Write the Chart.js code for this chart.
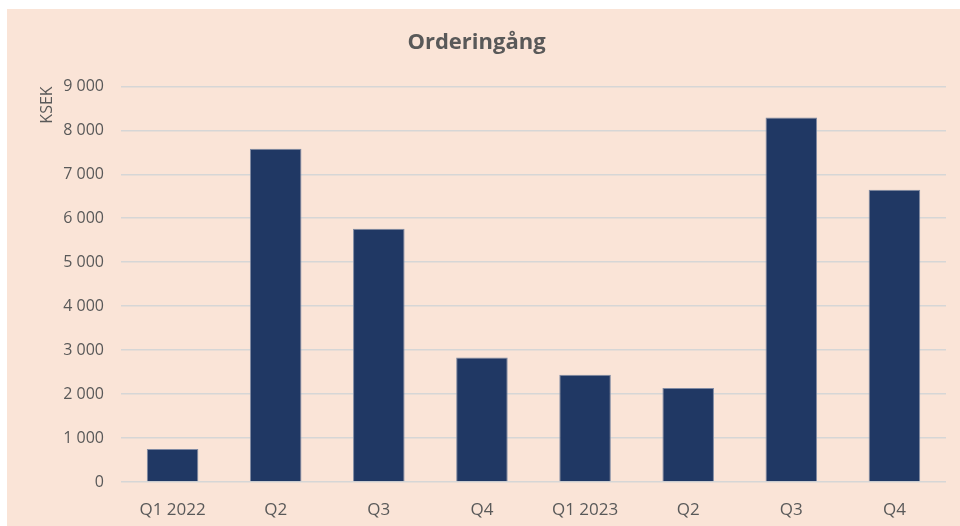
<!DOCTYPE html>
<html>
<head>
<meta charset="utf-8">
<script src="https://cdn.jsdelivr.net/npm/chart.js@4/dist/chart.umd.min.js"></script>
<style>
    html, body { margin: 0; padding: 0; background: #ffffff; }
    #wrap {
        position: absolute;
        left: 7px;
        top: 9px;
        width: 953px;
        height: 517px;
        background: #FAE4D7;
    }
</style>
</head>
<body>
<div id="wrap"><canvas id="orderChart" width="953" height="517"></canvas></div>
<script>
// Orderingång per kvartal (KSEK)
const categories = ['Q1 2022', 'Q2', 'Q3', 'Q4', 'Q1 2023', 'Q2', 'Q3', 'Q4'];
const orderValues = [750, 7580, 5760, 2830, 2440, 2140, 8290, 6650];
const yMin = 0;
const yMax = 9000;
const yStep = 1000;

const textColor = '#595959';
const fontFamily = '"Open Sans", "Noto Sans", sans-serif';

const ctx = document.getElementById('orderChart').getContext('2d');

new Chart(ctx, {
    type: 'bar',
    data: {
        labels: categories,
        datasets: [{
            label: 'Orderingång',
            data: orderValues,
            backgroundColor: '#203864',
            borderColor: '#7F8AA3',
            borderWidth: 1,
            categoryPercentage: 1,
            barPercentage: 0.5
        }]
    },
    options: {
        responsive: false,
        animation: false,
        layout: {
            padding: { left: 0, right: 14, top: 0, bottom: 0 }
        },
        plugins: {
            legend: { display: false },
            tooltip: { enabled: false },
            title: {
                display: true,
                text: 'Orderingång',
                color: textColor,
                font: { family: fontFamily, size: 22, weight: 'bold' },
                padding: { top: 21, bottom: 30 }
            }
        },
        scales: {
            x: {
                grid: { display: false },
                border: { display: false },
                ticks: {
                    color: textColor,
                    font: { family: fontFamily, size: 17 },
                    padding: 10,
                    maxRotation: 0,
                    autoSkip: false
                },
                afterFit: (scale) => { scale.height = 44; }
            },
            y: {
                min: yMin,
                max: yMax,
                grid: {
                    color: '#D6D6D6',
                    lineWidth: 1.6,
                    drawTicks: false
                },
                border: { display: false },
                ticks: {
                    stepSize: yStep,
                    color: textColor,
                    font: { family: fontFamily, size: 16 },
                    padding: 17,
                    callback: function(value) {
                        return String(value).replace(/\B(?=(\d{3})+(?!\d))/g, ' ');
                    }
                },
                title: {
                    display: true,
                    text: 'KSEK',
                    align: 'end',
                    color: textColor,
                    font: { family: fontFamily, size: 16 },
                    padding: { top: 31, bottom: 0 }
                },
                afterFit: (scale) => { scale.width = 114; }
            }
        }
    }
});
</script>
</body>
</html>
